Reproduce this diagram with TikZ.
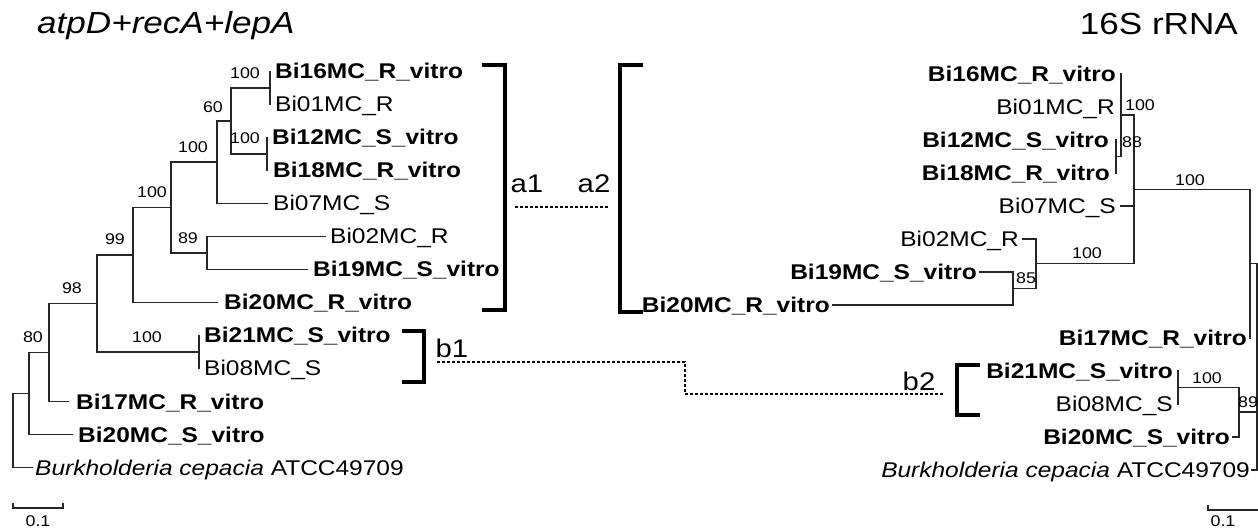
\documentclass[tikz,border=0pt]{standalone}
\usepackage{fontspec}
\setmainfont{Liberation Sans}[FakeStretch=1.15]
\begin{document}
\begin{tikzpicture}[x=1bp,y=-1bp]
\tikzset{
 br/.style={line width=1.3bp, draw=black!85, line cap=rect},
 lf/.style={inner sep=0pt, text height=15bp, text depth=0pt, font=\fontsize{21.3bp}{24bp}\selectfont},
 lb/.style={lf, font=\fontsize{21.3bp}{24bp}\selectfont\bfseries},
 supp/.style={inner sep=0pt, font=\fontsize{15.5bp}{17bp}\selectfont},
 brk/.style={line width=3.8bp, line cap=butt, line join=miter},
 dsh/.style={line width=1.5bp, dash pattern=on 3bp off 2bp},
 big/.style={inner sep=0pt, font=\fontsize{25.5bp}{28bp}\selectfont},
 ttl/.style={inner sep=0pt, font=\fontsize{30.5bp}{33bp}\selectfont},
}
\useasboundingbox (0,0) rectangle (1258,532);
\fill[white] (0,0) rectangle (1258,532);

% titles
\node[ttl, anchor=base west] (t1) at (37,34) {\itshape atpD+recA+lepA};
\node[ttl, anchor=base east] (t2) at (1238,35) {16S rRNA};

% ---------- left tree ----------
\coordinate (t16) at (270,71.5);
\coordinate (t01) at (270,104.5);
\coordinate (t12) at (267,137.5);
\coordinate (t18) at (267,170.5);
\coordinate (t07) at (267,203.5);
\coordinate (t02) at (325,236.5);
\coordinate (t19) at (307,269.5);
\coordinate (t20R) at (217,302.5);
\coordinate (t21) at (199,335.5);
\coordinate (t08) at (199,368.5);
\coordinate (t17) at (68,401.5);
\coordinate (t20S) at (72,434.5);
\coordinate (tB) at (32,467.5);

\coordinate (A) at (270,88);
\coordinate (C) at (267,154);
\coordinate (B) at (231,121);
\coordinate (D) at (217,162);
\coordinate (F) at (207,253);
\coordinate (E) at (171,207.5);
\coordinate (G) at (133,255);
\coordinate (I) at (199,352);
\coordinate (H) at (97,303.5);
\coordinate (J) at (49,352.5);
\coordinate (K) at (29,393.5);
\coordinate (R) at (13,430.5);

\draw[br] (A) |- (t16); \draw[br] (A) |- (t01);
\draw[br] (C) |- (t12); \draw[br] (C) |- (t18);
\draw[br] (B) |- (A); \draw[br] (B) |- (C);
\draw[br] (D) |- (B); \draw[br] (D) |- (t07);
\draw[br] (F) |- (t02); \draw[br] (F) |- (t19);
\draw[br] (E) |- (D); \draw[br] (E) |- (F);
\draw[br] (G) |- (E); \draw[br] (G) |- (t20R);
\draw[br] (I) |- (t21); \draw[br] (I) |- (t08);
\draw[br] (H) |- (G); \draw[br] (H) |- (I);
\draw[br] (J) |- (H); \draw[br] (J) |- (t17);
\draw[br] (K) |- (J); \draw[br] (K) |- (t20S);
\draw[br] (R) |- (K); \draw[br] (R) |- (tB);

\node[lb, anchor=west] (n16) at (275,71.5) {Bi16MC\_R\_vitro};
\node[lf, anchor=west] (n01) at (275,104.5) {Bi01MC\_R};
\node[lb, anchor=west] (n12) at (272,137.5) {Bi12MC\_S\_vitro};
\node[lb, anchor=west] (n18) at (273,170.5) {Bi18MC\_R\_vitro};
\node[lf, anchor=west] (n07) at (273,203.5) {Bi07MC\_S};
\node[lf, anchor=west] (n02) at (330,236.5) {Bi02MC\_R};
\node[lb, anchor=west] (n19) at (313,269.5) {Bi19MC\_S\_vitro};
\node[lb, anchor=west] (n20R) at (224,302.5) {Bi20MC\_R\_vitro};
\node[lb, anchor=west] (n21) at (204,335.5) {Bi21MC\_S\_vitro};
\node[lf, anchor=west] (n08) at (204,368.5) {Bi08MC\_S};
\node[lb, anchor=west] (n17) at (76,401.5) {Bi17MC\_R\_vitro};
\node[lb, anchor=west] (n20S) at (78,434.5) {Bi20MC\_S\_vitro};
\node[lf, anchor=west] (nB) at (35,467.5) {\itshape Burkholderia cepacia\upshape\ ATCC49709};

\node[supp] (sA) at (245,73) {100};
\node[supp] (sC) at (245,138) {100};
\node[supp] (sB) at (213,107) {60};
\node[supp] (sD) at (193,147) {100};
\node[supp] (sE) at (152,192) {100};
\node[supp] (sF) at (188,238) {89};
\node[supp] (sG) at (115,239) {99};
\node[supp] (sH) at (72,288) {98};
\node[supp] (sI) at (147,337) {100};
\node[supp] (sJ) at (33,337) {80};

% scale bar left
\coordinate (sl1) at (13,503); \coordinate (sl2) at (13,508);
\coordinate (sl3) at (63,508); \coordinate (sl4) at (63,503);
\draw[br, line cap=butt] (sl1) -- (sl2) -- (sl3) -- (sl4);
\node[supp] (scl) at (38,521) {0.1};

% ---------- right tree ----------
\coordinate (s16) at (1121,74);
\coordinate (s01) at (1121,107);
\coordinate (s12) at (1116,140);
\coordinate (s18) at (1116,173);
\coordinate (s07) at (1121,206);
\coordinate (s02) at (1023,239);
\coordinate (s19) at (980,272);
\coordinate (s20R) at (833,305);
\coordinate (s17) at (1250,338);
\coordinate (s21) at (1178,371);
\coordinate (s08) at (1178,404);
\coordinate (s20S) at (1233,437);
\coordinate (sBt) at (1252,470);

\coordinate (P1) at (1116,156.5);
\coordinate (P2) at (1121,115);
\coordinate (P5) at (1013,288.5);
\coordinate (P4) at (1036,263.75);
\coordinate (P3) at (1134,189.5);
\coordinate (P6) at (1250,263.7);
\coordinate (P8) at (1178,387.5);
\coordinate (P7) at (1239,412);
\coordinate (Q) at (1257,367);

\draw[br] (P1) |- (s12); \draw[br] (P1) |- (s18);
\draw[br] (P2) |- (s16); \draw[br] (P2) |- (s01); \draw[br] (P2) |- (P1);
\draw[br] (P5) |- (s19); \draw[br] (P5) |- (s20R);
\draw[br] (P4) |- (s02); \draw[br] (P4) |- (P5);
\draw[br] (P3) |- (P2); \draw[br] (P3) |- (s07); \draw[br] (P3) |- (P4);
\draw[br] (P6) |- (P3); \draw[br] (P6) |- (s17);
\draw[br] (P8) |- (s21); \draw[br] (P8) |- (s08);
\draw[br] (P7) |- (P8); \draw[br] (P7) |- (s20S);
\draw[br] (Q) |- (P6); \draw[br] (Q) |- (P7); \draw[br] (Q) |- (sBt);

\node[lb, anchor=east] (m16) at (1116,74) {Bi16MC\_R\_vitro};
\node[lf, anchor=east] (m01) at (1115,107) {Bi01MC\_R};
\node[lb, anchor=east] (m12) at (1109,140) {Bi12MC\_S\_vitro};
\node[lb, anchor=east] (m18) at (1110,173) {Bi18MC\_R\_vitro};
\node[lf, anchor=east] (m07) at (1116,206) {Bi07MC\_S};
\node[lf, anchor=east] (m02) at (1019,239) {Bi02MC\_R};
\node[lb, anchor=east] (m19) at (977,272) {Bi19MC\_S\_vitro};
\node[lb, anchor=east] (m20R) at (830,305) {Bi20MC\_R\_vitro};
\node[lb, anchor=east] (m17) at (1247,338) {Bi17MC\_R\_vitro};
\node[lb, anchor=east] (m21) at (1173,371) {Bi21MC\_S\_vitro};
\node[lf, anchor=east] (m08) at (1173,404) {Bi08MC\_S};
\node[lb, anchor=east] (m20S) at (1230,437) {Bi20MC\_S\_vitro};
\node[lf, anchor=east] (mB) at (1250,470) {\itshape Burkholderia cepacia\upshape\ ATCC49709};

\node[supp] (uP1) at (1132,142) {88};
\node[supp] (uP2) at (1140,105) {100};
\node[supp] (uP3) at (1190,180) {100};
\node[supp] (uP4) at (1087,253) {100};
\node[supp] (uP5) at (1026,278) {85};
\node[supp] (uP8) at (1207,378) {100};
\node[supp] (uP7) at (1248,402) {89};

% scale bar right
\coordinate (sr1) at (1208,505); \coordinate (sr2) at (1208,510);
\coordinate (sr3) at (1258,510);
\draw[br, line cap=butt] (sr1) -- (sr2) -- (sr3);
\node[supp] (scr) at (1223,521) {0.1};

% ---------- brackets and links ----------
\coordinate (a1t) at (482,65); \coordinate (a1u) at (505,65);
\coordinate (a1v) at (505,310); \coordinate (a1w) at (482,310);
\draw[brk] (a1t) -- (a1u) -- (a1v) -- (a1w);
\coordinate (a2t) at (643,65); \coordinate (a2u) at (620,65);
\coordinate (a2v) at (620,312); \coordinate (a2w) at (643,312);
\draw[brk] (a2t) -- (a2u) -- (a2v) -- (a2w);
\node[big, anchor=base] (la1) at (527,193) {a1};
\node[big, anchor=base] (la2) at (594,193) {a2};
\coordinate (da1) at (515,207); \coordinate (da2) at (610,207);
\draw[dsh] (da1) -- (da2);

\coordinate (b1t) at (402,331); \coordinate (b1u) at (424,331);
\coordinate (b1v) at (424,382); \coordinate (b1w) at (402,382);
\draw[brk] (b1t) -- (b1u) -- (b1v) -- (b1w);
\coordinate (b2t) at (980,365); \coordinate (b2u) at (957,365);
\coordinate (b2v) at (957,415); \coordinate (b2w) at (980,415);
\draw[brk] (b2t) -- (b2u) -- (b2v) -- (b2w);
\node[big, anchor=base] (lb1) at (452,358) {b1};
\node[big, anchor=base] (lb2) at (919,390) {b2};
\coordinate (db1) at (437,362); \coordinate (db2) at (685,362);
\coordinate (db3) at (685,394); \coordinate (db4) at (943,394);
\draw[dsh] (db1) -- (db2) -- (db3) -- (db4);
\end{tikzpicture}
\end{document}
